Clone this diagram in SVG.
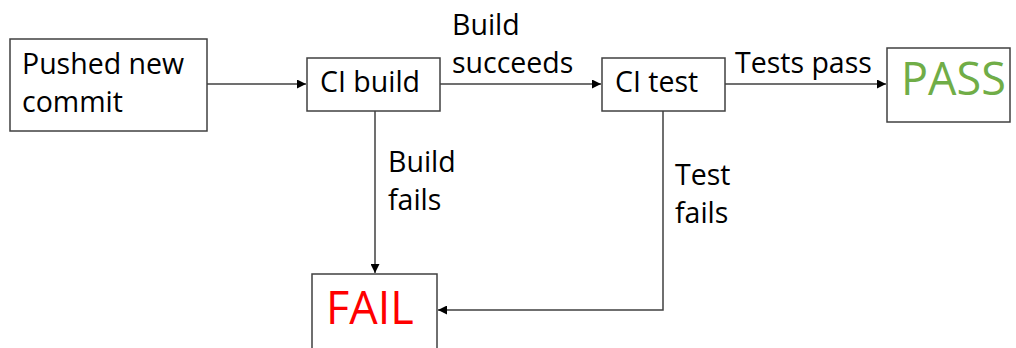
<svg xmlns="http://www.w3.org/2000/svg" width="1016" height="348" viewBox="0 0 1016 348">
<style>
.box{fill:#fff;stroke:#404040;stroke-width:1.5}
.t{font-family:"Open Sans","Noto Sans",sans-serif;font-size:28.5px;fill:#000}
.big{font-family:"Open Sans","Noto Sans",sans-serif;font-size:45px}
.ln{fill:none;stroke:#404040;stroke-width:1.5}
</style>
<defs>
<marker id="ah" viewBox="0 0 10 10" refX="10" refY="5" markerWidth="9" markerHeight="9" markerUnits="userSpaceOnUse" orient="auto">
<path d="M0,0 L10,5 L0,10 z" fill="#000"/>
</marker>
</defs>
<rect width="1016" height="348" fill="#fff"/>
<g id="connectors">
<line class="ln" x1="207" y1="84" x2="306" y2="84" marker-end="url(#ah)"/>
<line class="ln" x1="440" y1="84" x2="601" y2="84" marker-end="url(#ah)"/>
<line class="ln" x1="725" y1="84" x2="886" y2="84" marker-end="url(#ah)"/>
<line class="ln" x1="375" y1="111" x2="375" y2="273" marker-end="url(#ah)"/>
<polyline class="ln" points="663,111 663,310 438,310" marker-end="url(#ah)"/>
<text class="t" x="452" y="35">Build</text>
<text class="t" x="452" y="73">succeeds</text>
<text class="t" x="735" y="73">Tests pass</text>
<text class="t" x="388" y="172">Build</text>
<text class="t" x="388" y="210">fails</text>
<text class="t" x="675" y="185">Test</text>
<text class="t" x="675" y="223">fails</text>
</g>
<g id="pushed">
<rect class="box" x="10" y="39" width="197" height="92"/>
<text class="t" x="22" y="74">Pushed new</text>
<text class="t" x="22" y="112">commit</text>
</g>
<g id="cibuild">
<rect class="box" x="307" y="58" width="133" height="53"/>
<text class="t" x="320" y="92">CI build</text>
</g>
<g id="citest">
<rect class="box" x="602" y="58" width="123" height="53"/>
<text class="t" x="615" y="92">CI test</text>
</g>
<g id="pass">
<rect class="box" x="887" y="48" width="123" height="74"/>
<text class="big" x="901" y="95" fill="#70AD47">PASS</text>
</g>
<g id="fail">
<rect class="box" x="312" y="274" width="125" height="80"/>
<text class="big" x="326" y="324" fill="#FF0000">FAIL</text>
</g>
</svg>
